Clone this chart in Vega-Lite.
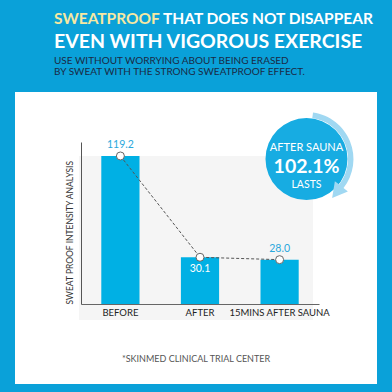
{
  "$schema": "https://vega.github.io/schema/vega-lite/v6.json",
  "background": "#0aa1d9",
  "padding": {"left": 15, "top": 12, "right": 20, "bottom": 20},
  "config": {
    "font": "Lato",
    "view": {"stroke": null},
    "title": {"anchor": "start", "frame": "bounds"}
  },
  "datasets": {
    "results": [
      {"stage": "BEFORE", "intensity": 119.2},
      {"stage": "AFTER", "intensity": 30.1},
      {"stage": "15MINS AFTER SAUNA", "intensity": 28.0}
    ],
    "badge": [{"stage": "15MINS AFTER SAUNA", "caption": "AFTER SAUNA", "retention": "102.1%", "note": "LASTS"}],
    "source": [{"source": "*SKINMED CLINICAL TRIAL CENTER"}]
  },
  "title": {"text": "SWEATPROOF", "dx": 39, "offset": -15.5, "fontSize": 15.5, "fontWeight": "bold", "color": "#f7e8a2", "font": "Lato"},
  "vconcat": [
    {
      "title": {
        "text": "THAT DOES NOT DISAPPEAR",
        "dx": 148, "offset": 4, "fontSize": 15.5, "fontWeight": "bold", "color": "#ffffff", "font": "Lato"
      },
      "vconcat": [
        {
          "title": {
            "text": "EVEN WITH VIGOROUS EXERCISE",
            "subtitle": ["USE WITHOUT WORRYING ABOUT BEING ERASED", "BY SWEAT WITH THE STRONG SWEATPROOF EFFECT."],
            "dx": 39, "offset": 2.5, "fontSize": 19.5, "fontWeight": "bold", "color": "#ffffff", "font": "Lato",
            "subtitleFont": "Lato", "subtitleFontSize": 10, "subtitleLineHeight": 11, "subtitleFontWeight": "normal", "subtitleColor": "#1b2a45", "subtitlePadding": 3.7
          },
          "vconcat": [
            {
              "width": 298,
              "height": 228,
              "view": {"fill": "#f5f5f5", "stroke": "#ffffff", "strokeWidth": 64, "strokeJoin": "miter"},
              "layer": [
                {
                  "data": {"name": "source"},
                  "mark": {"type": "rect", "color": "#ffffff", "opacity": 1},
                  "encoding": {
                    "y": {"datum": -38.3, "type": "quantitative", "scale": {"domain": [-11, 131.5], "range": [180, 18], "nice": false, "zero": false}},
                    "y2": {"datum": -70}
                  }
                },
                {
                  "data": {"name": "source"},
                  "mark": {"type": "text", "fontSize": 9, "color": "#555555", "baseline": "middle", "font": "Lato"},
                  "encoding": {"y": {"datum": -59.4, "type": "quantitative"}, "text": {"field": "source"}}
                },
                {
                  "data": {"name": "results"},
                  "mark": {"type": "bar", "color": "#00b0e4"},
                  "encoding": {
                    "x": {
                      "field": "stage", "type": "nominal", "sort": null,
                      "scale": {"domain": ["BEFORE", "AFTER", "15MINS AFTER SAUNA"], "range": [34, 272], "paddingInner": 0.52, "paddingOuter": 0.255},
                      "axis": {"title": null, "offset": -48, "zindex": 1, "domainColor": "#666666", "ticks": false, "tickSize": 0, "labelPadding": 3, "labelAngle": 0, "labelFontSize": 9.5, "labelColor": "#222222", "labelFont": "Lato", "grid": false}
                    },
                    "y": {
                      "field": "intensity", "type": "quantitative",
                      "axis": {"title": "SWEAT PROOF INTENSITY ANALYSIS", "offset": -34, "zindex": 1, "labels": false, "ticks": false, "grid": false, "domainColor": "#555555", "titleFont": "Lato", "titleFontSize": 8.5, "titleFontWeight": "normal", "titleColor": "#333333", "titlePadding": 7, "titleY": 180, "titleAlign": "left"}
                    },
                    "y2": {"datum": -11}
                  }
                },
                {
                  "data": {"name": "results"},
                  "mark": {"type": "line", "color": "#555555", "strokeWidth": 1, "strokeDash": [3, 2]},
                  "encoding": {
                    "x": {"field": "stage", "type": "nominal", "sort": null},
                    "y": {"field": "intensity", "type": "quantitative"}
                  }
                },
                {
                  "data": {"name": "results"},
                  "mark": {"type": "point", "shape": "circle", "size": 64, "filled": true, "fill": "#ffffff", "stroke": "#666666", "strokeWidth": 1, "opacity": 1},
                  "encoding": {
                    "x": {"field": "stage", "type": "nominal", "sort": null},
                    "y": {"field": "intensity", "type": "quantitative"}
                  }
                },
                {
                  "data": {"name": "results"},
                  "transform": [{"filter": "datum.stage !== 'AFTER'"}],
                  "mark": {"type": "text", "dy": -11, "fontSize": 10.5, "color": "#2aa8dc", "baseline": "middle", "font": "Lato"},
                  "encoding": {
                    "x": {"field": "stage", "type": "nominal", "sort": null},
                    "y": {"field": "intensity", "type": "quantitative"},
                    "text": {"field": "intensity", "type": "quantitative", "format": ".1f"}
                  }
                },
                {
                  "data": {"name": "results"},
                  "transform": [{"filter": "datum.stage === 'AFTER'"}],
                  "mark": {"type": "text", "dy": 12, "fontSize": 10.5, "color": "#ffffff", "baseline": "middle", "font": "Lato"},
                  "encoding": {
                    "x": {"field": "stage", "type": "nominal", "sort": null},
                    "y": {"field": "intensity", "type": "quantitative"},
                    "text": {"field": "intensity", "type": "quantitative", "format": ".1f"}
                  }
                },
                {
                  "data": {"name": "badge"},
                  "mark": {"type": "point", "shape": "circle", "size": 6724, "filled": true, "color": "#17ace2", "opacity": 1},
                  "encoding": {"x": {"field": "stage", "type": "nominal", "bandPosition": 1.204}, "y": {"datum": 116.5, "type": "quantitative"}}
                },
                {
                  "data": {"name": "badge"},
                  "mark": {"type": "point", "shape": "M 0.1308 -0.9309 C 0.4634 -0.8841 0.7458 -0.6635 0.8716 -0.3521 C 0.9974 -0.0407 0.9475 0.3141 0.7407 0.5788 L 0.8274 0.6465 L 0.5127 0.7813 L 0.5674 0.4433 L 0.6540 0.5110 C 0.8366 0.2773 0.8807 -0.0359 0.7696 -0.3109 C 0.6585 -0.5859 0.4092 -0.7806 0.1155 -0.8219 Z", "size": 10000, "filled": true, "color": "#a0d8f2", "opacity": 1},
                  "encoding": {"x": {"field": "stage", "type": "nominal", "bandPosition": 1.204}, "y": {"datum": 116.5, "type": "quantitative"}}
                },
                {
                  "data": {"name": "badge"},
                  "mark": {"type": "text", "dy": -11, "fontSize": 11, "color": "#ffffff", "baseline": "middle", "font": "Lato"},
                  "encoding": {"x": {"field": "stage", "type": "nominal", "bandPosition": 1.204}, "y": {"datum": 116.5, "type": "quantitative"}, "text": {"field": "caption"}}
                },
                {
                  "data": {"name": "badge"},
                  "mark": {"type": "text", "dy": 8, "fontSize": 19.5, "fontWeight": "bold", "color": "#ffffff", "baseline": "middle", "font": "Lato"},
                  "encoding": {"x": {"field": "stage", "type": "nominal", "bandPosition": 1.204}, "y": {"datum": 116.5, "type": "quantitative"}, "text": {"field": "retention"}}
                },
                {
                  "data": {"name": "badge"},
                  "mark": {"type": "text", "dy": 26, "fontSize": 10.5, "color": "#ffffff", "baseline": "middle", "font": "Lato"},
                  "encoding": {"x": {"field": "stage", "type": "nominal", "bandPosition": 1.204}, "y": {"datum": 116.5, "type": "quantitative"}, "text": {"field": "note"}}
                }
              ]
            }
          ]
        }
      ]
    }
  ]
}
